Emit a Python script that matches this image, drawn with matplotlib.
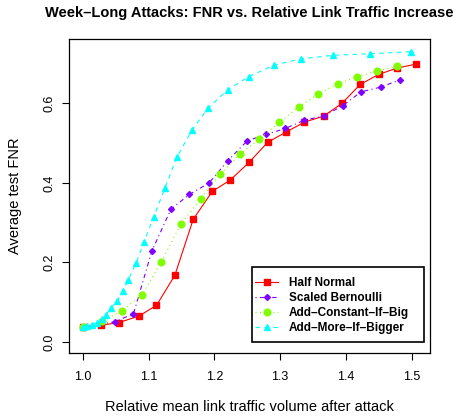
import matplotlib
matplotlib.use("Agg")
from matplotlib import pyplot as plt
from matplotlib.patches import Rectangle

plt.rcParams['font.family'] = ['Liberation Sans', 'DejaVu Sans']

# FNR per attack model vs relative mean link traffic
half_normal_x = [1.000, 1.028, 1.055, 1.085, 1.112, 1.140, 1.168, 1.197, 1.224, 1.253,
                 1.281, 1.309, 1.337, 1.366, 1.394, 1.422, 1.450, 1.478, 1.507]
half_normal_y = [0.037, 0.042, 0.049, 0.065, 0.092, 0.168, 0.309, 0.379, 0.407, 0.452,
                 0.502, 0.528, 0.553, 0.568, 0.600, 0.648, 0.673, 0.689, 0.699]

bernoulli_x = [1.000, 1.049, 1.077, 1.105, 1.134, 1.162, 1.192, 1.220, 1.250, 1.279,
               1.308, 1.337, 1.366, 1.395, 1.423, 1.453, 1.482]
bernoulli_y = [0.037, 0.051, 0.071, 0.229, 0.334, 0.371, 0.400, 0.455, 0.506, 0.522,
               0.537, 0.558, 0.568, 0.594, 0.629, 0.641, 0.659]

const_big_x = [1.000, 1.029, 1.059, 1.090, 1.119, 1.149, 1.179, 1.209, 1.239, 1.268,
               1.299, 1.328, 1.358, 1.388, 1.417, 1.447, 1.477]
const_big_y = [0.037, 0.052, 0.078, 0.119, 0.200, 0.296, 0.360, 0.422, 0.472, 0.510,
               0.552, 0.591, 0.623, 0.650, 0.667, 0.681, 0.693]

more_bigger_x = [1.000, 1.007, 1.014, 1.021, 1.029, 1.035, 1.043, 1.052, 1.061, 1.069,
                 1.081, 1.093, 1.108, 1.125, 1.143, 1.166, 1.191, 1.220, 1.252, 1.290,
                 1.332, 1.381, 1.437, 1.499]
more_bigger_y = [0.037, 0.040, 0.043, 0.049, 0.057, 0.068, 0.085, 0.104, 0.127, 0.156,
                 0.198, 0.252, 0.315, 0.388, 0.465, 0.533, 0.589, 0.634, 0.667, 0.696,
                 0.712, 0.721, 0.725, 0.730]

labels = ['Half Normal', 'Scaled Bernoulli', 'Add–Constant–If–Big', 'Add–More–If–Bigger']
xticks = [1.0, 1.1, 1.2, 1.3, 1.4, 1.5]
yticks = [0.0, 0.2, 0.4, 0.6]

fig = plt.figure(figsize=(4.58, 4.17), dpi=100)
ax = fig.add_subplot(111)
fig.subplots_adjust(left=0.1507, right=0.939, bottom=0.1527, top=0.9065)

lw = 0.8
ax.plot(half_normal_x, half_normal_y, color='#ff0000', lw=lw, ls='-',
        marker='s', ms=4, label=labels[0])
ax.plot(bernoulli_x, bernoulli_y, color='#8000ff', lw=lw, ls=(0, (1, 3, 4, 3)),
        marker='D', ms=3, label=labels[1])
ax.plot(const_big_x, const_big_y, color='#80ff00', lw=lw, ls=(0, (1, 3)),
        marker='o', ms=4.8, label=labels[2])
ax.plot(more_bigger_x, more_bigger_y, color='#00ffff', lw=lw, ls=(0, (4, 4)),
        marker='^', ms=4.4, label=labels[3])

ax.set_xlim(0.979, 1.528)
ax.set_ylim(-0.0285, 0.762)
ax.set_xticks(xticks)
ax.set_xticklabels(['%.1f' % t for t in xticks])
ax.set_yticks(yticks)
ax.set_yticklabels(['%.1f' % t for t in yticks], rotation=90, va='center')
ax.tick_params(direction='out', length=5, width=0.8, labelsize=9, pad=8)
ax.tick_params(axis='y', pad=5)
for s in ax.spines.values():
    s.set_linewidth(0.9)

ax.set_xlabel('Relative mean link traffic volume after attack', fontsize=10.5, va='center')
ax.xaxis.set_label_coords(0.5, -0.17)
ax.set_ylabel('Average test FNR', fontsize=10.5, va='center')
ax.yaxis.set_label_coords(-0.1496, 0.5)

fig.text(0.545, 0.969, 'Week–Long Attacks: FNR vs. Relative Link Traffic Increase',
         fontsize=10.5, fontweight='bold', ha='center', va='center')

# legend box drawn by hand so the padding can differ left/right
ax.add_patch(Rectangle((0.507, 0.036), 0.4764, 0.2386, transform=ax.transAxes,
                       fill=True, facecolor='white', edgecolor='black', lw=1.2, zorder=5))
leg = ax.legend(loc='upper left', bbox_to_anchor=(0.516, 0.242), borderaxespad=0,
                frameon=False, prop={'weight': 'bold', 'size': 8.5},
                handlelength=1.95, handletextpad=0.9, labelspacing=0.25, borderpad=0)
leg.set_zorder(6)

fig.savefig('out.png', dpi=100)
